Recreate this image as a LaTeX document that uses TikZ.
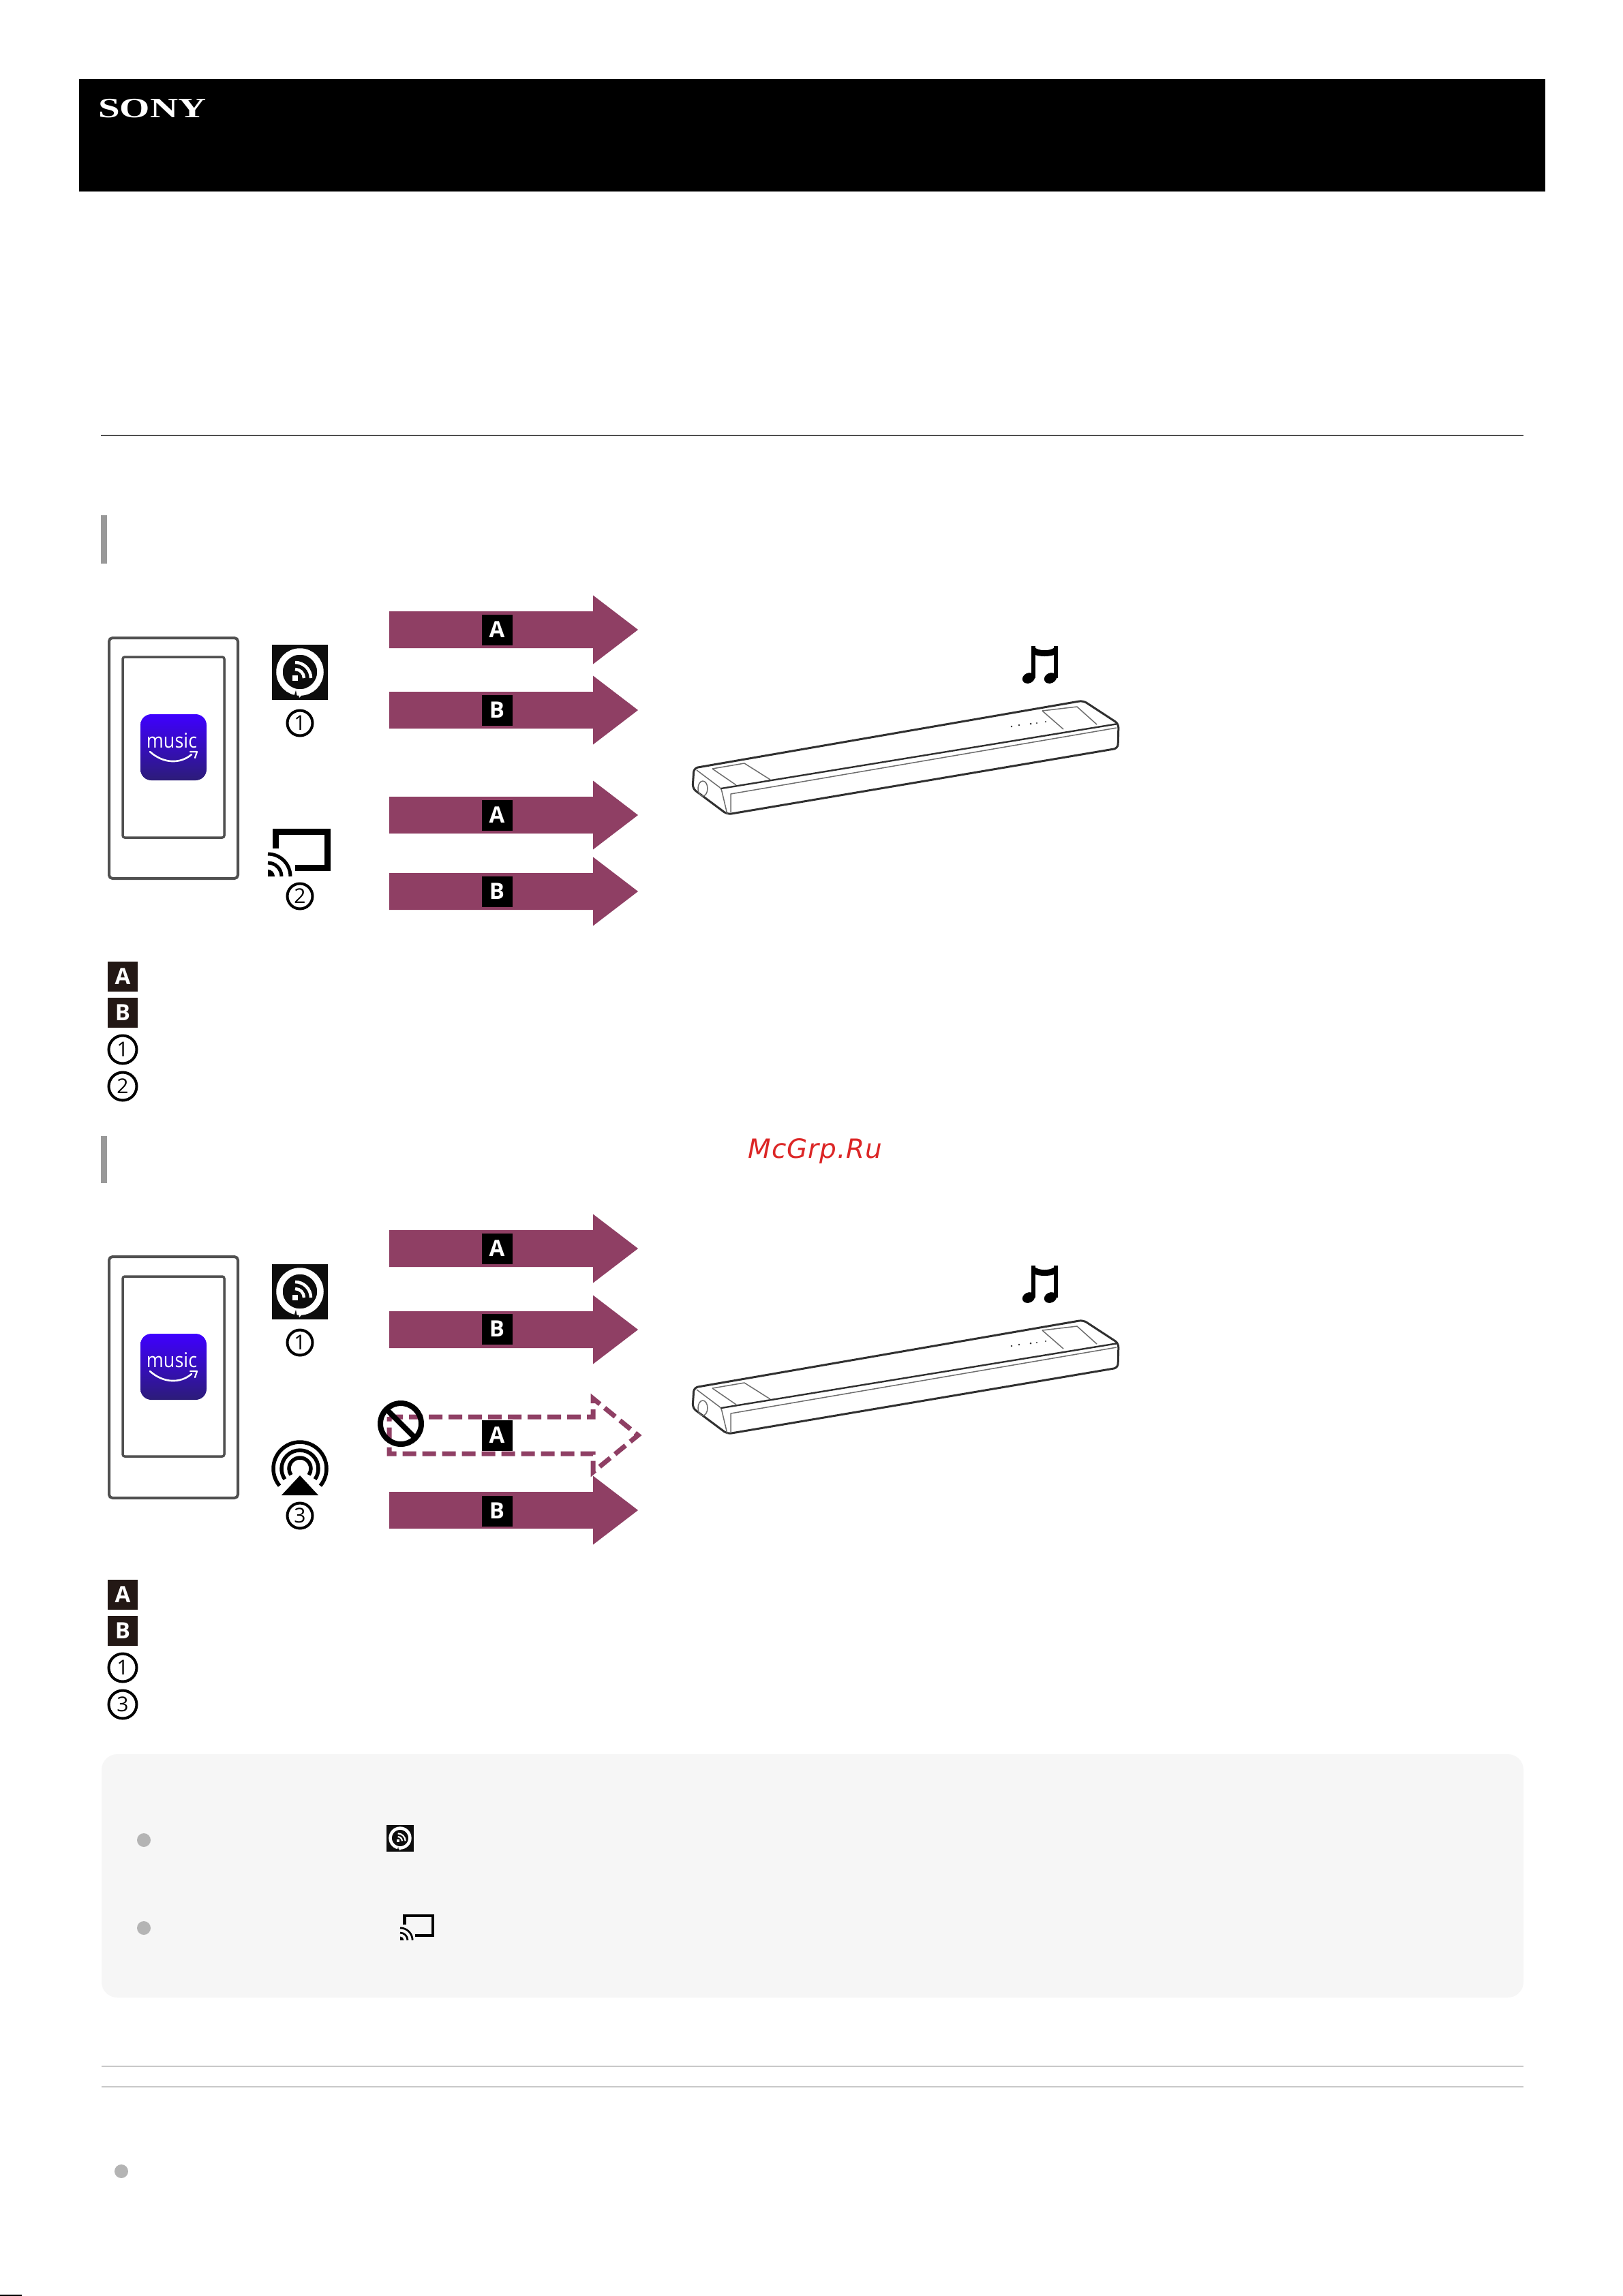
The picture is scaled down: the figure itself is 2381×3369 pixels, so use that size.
\documentclass[tikz,border=0pt]{standalone}
\usepackage{fontspec}
\setmainfont{Open Sans}
\newfontfamily\dvfont[LetterSpace=2.5]{DejaVu Sans}
\newfontfamily\lsfont{Liberation Serif}
\definecolor{flow}{HTML}{8F3F64}
\definecolor{legendbk}{HTML}{231815}
\definecolor{phoneline}{HTML}{505050}
\definecolor{notebg}{HTML}{F6F6F6}
\definecolor{dotgrey}{HTML}{B4B4B4}
\definecolor{rulegrey}{HTML}{C8C8C8}
\definecolor{barline}{HTML}{303030}
\definecolor{apptop}{HTML}{3F00FF}
\definecolor{appbot}{HTML}{2C1C78}
\definecolor{wmred}{HTML}{DC2626}
\tikzset{
  x=1pt,y=-1pt,
  letterbox/.style={fill=black,text=white,inner sep=0pt,minimum width=45pt,minimum height=45pt,font=\fontsize{33}{35}\selectfont\bfseries},
  legendbox/.style={letterbox,fill=legendbk,minimum width=44pt,minimum height=44pt},
  numring/.style={circle,draw=black,line width=4pt,inner sep=0pt,minimum size=37pt,font=\fontsize{30}{32}\selectfont},
  legendring/.style={numring,minimum size=41pt},
  phoneframe/.style={draw=phoneline,line width=4pt,rounded corners=5pt},
  screenframe/.style={draw=phoneline,line width=3.5pt,rounded corners=3pt},
  barout/.style={draw=barline,line width=3pt,line join=round},
  barin/.style={draw=barline!70,line width=1.5pt,line join=round},
  sidebar/.style={fill=dotgrey!85!black},
  bulletdot/.style={fill=dotgrey},
  rulethin/.style={rulegrey,line width=2.5pt},
}
% filled arrow, centre y
\newcommand\flowarrow[1]{\fill[flow] (571,#1-27) -- (870,#1-27) -- (870,#1-50.5) -- (936,#1) -- (870,#1+50.5) -- (870,#1+27) -- (571,#1+27) -- cycle;}
% amazon music icon: top y
\newcommand\appicon[2]{%
  \shade[top color=apptop,bottom color=appbot,rounded corners=16pt] (206,#1) rectangle (303,#1+97);
  \node (#2) [text=white,inner sep=0pt,anchor=base,xscale=.9,font=\fontsize{30}{31}\selectfont] at (252,#1+49) {music};
  \draw[white,line width=2.6pt,line cap=round] (220,#1+55) .. controls (240,#1+73) and (265,#1+73) .. (281,#1+59);
  \draw[white,line width=2.2pt,line cap=round,line join=round] (279,#1+55) -- (289,#1+55) -- (286,#1+64);
}
% alexa cast icon: centre x, centre y, scale
\newcommand\alexaicon[3]{%
  \begin{scope}[shift={(#1,#2)},scale=#3]
    \fill[black!95] (-41,-40) rectangle (41,41);
    \draw[white,line width=#3*9.5pt] (0,0) circle [radius=30pt];
    \fill[white] (-3,27) -- (8,28) -- (-1,38) -- cycle;
    \fill[black!95] (-6,27) -- (-9,37) -- (-4,37) -- cycle;
    \fill[white] (-11,5) rectangle (-3,13);
    \draw[white,line width=#3*4.5pt] (-7,-4) arc [start angle=90,end angle=0,radius=13pt];
    \draw[white,line width=#3*4.5pt] (-7,-14) arc [start angle=90,end angle=0,radius=23pt];
  \end{scope}
}
% cast icon: origin of waves, scale
\newcommand\casticon[3]{%
  \begin{scope}[shift={(#1,#2)},scale=#3]
    \draw[black,line width=#3*8.5pt,line join=miter] (11.5,-41) -- (11.5,-65.5) -- (87.5,-65.5) -- (87.5,-12.5) -- (40,-12.5);
    \fill[black] (0,0) -- (0,-10) arc [start angle=90,end angle=0,radius=10pt] -- cycle;
    \draw[black,line width=#3*5pt] (0,-20) arc [start angle=90,end angle=0,radius=20pt];
    \draw[black,line width=#3*5pt] (0,-33) arc [start angle=90,end angle=0,radius=33pt];
  \end{scope}
}
% soundbar and notes, vertical offset
\newcommand\soundbar[1]{%
  \begin{scope}[shift={(0,#1)}]
    \draw[barout,rounded corners=6pt] (1018,1127) -- (1589,1028) -- (1641,1062) -- (1640,1098) -- (1067,1195) -- (1016,1157) -- cycle;
    \draw[barin,rounded corners=3pt] (1022,1130) -- (1058,1157) -- (1067,1195);
    \draw[barout,line width=2.4pt] (1058,1157) -- (1640,1062);
    \draw[barin] (1072,1192) -- (1072,1165) -- (1638,1068);
    \draw[barin] (1045,1128) -- (1092,1120) -- (1130,1144);
    \draw[barin] (1529,1043) -- (1580,1037) -- (1609,1063);
    \draw[barin] (1529,1043) -- (1560,1070);
    \draw[barin] (1080,1152) -- (1045,1128);
    \draw[barin] (1031,1157) ellipse [x radius=7pt,y radius=11pt];
    \fill[barline] (1484,1066) circle [radius=1.3pt] (1495,1064) circle [radius=1.3pt] (1512,1062) circle [radius=1.5pt] (1521,1061) circle [radius=1.2pt] (1534,1059) circle [radius=1.2pt];
    \fill[black,shift={(1509,995)},rotate=25] (0,0) ellipse [x radius=9.5pt,y radius=7.5pt];
    \fill[black,shift={(1541,995)},rotate=25] (0,0) ellipse [x radius=9.5pt,y radius=7.5pt];
    \fill[black] (1513,948) -- (1519,948) -- (1519,995) -- (1513,995) -- cycle;
    \fill[black] (1546,948) -- (1552,948) -- (1552,995) -- (1546,995) -- cycle;
    \fill[black] (1516,949) .. controls (1525,956) and (1540,956) .. (1549,949) -- (1549,960) .. controls (1540,964) and (1525,964) .. (1516,960) -- cycle;
  \end{scope}
}
\begin{document}
\begin{tikzpicture}
\useasboundingbox (0,0) rectangle (2381,3369);
\fill[white] (0,0) rectangle (2381,3369);
% header
\fill[black] (116,116) rectangle (2267,281);
\node (sonylogo) [text=white,inner sep=0pt,anchor=base west,xscale=1.39,font=\lsfont\fontsize{41}{42}\selectfont\bfseries] at (144,173) {SONY};
\draw[phoneline,line width=2pt] (148,639) -- (2235,639);
\fill[sidebar] (148,756) rectangle (157,827);
\fill[sidebar] (148,1667) rectangle (157,1736);

% ---- first diagram
\draw[phoneframe] (160,936) rectangle (349,1289);
\draw[screenframe] (180,964) rectangle (329,1229);
\appicon{1048}{musicA}
\alexaicon{440}{986}{1}
\node (ra1) [numring] at (440,1061) {1};
\casticon{393}{1286}{1}
\node (ra2) [numring] at (440,1315) {2};
\flowarrow{924}
\flowarrow{1042}
\flowarrow{1196}
\flowarrow{1308}
\node (la1) [letterbox] at (729,924) {A};
\node (la2) [letterbox] at (729,1042) {B};
\node (la3) [letterbox] at (729,1196) {A};
\node (la4) [letterbox] at (729,1308) {B};
\soundbar{0}
\node (kaA) [legendbox] at (180,1433) {A};
\node (kaB) [legendbox] at (180,1486) {B};
\node (ka1) [legendring] at (180,1540) {1};
\node (ka2) [legendring] at (180,1594) {2};

% watermark
\node (mark) [text=wmred,inner sep=0pt,anchor=base,font=\dvfont\fontsize{39}{40}\selectfont\itshape] at (1196,1699) {McGrp.Ru};

% ---- second diagram
\draw[phoneframe] (160,1844) rectangle (349,2198);
\draw[screenframe] (180,1873) rectangle (329,2137);
\appicon{1957}{musicB}
\alexaicon{440}{1895}{1}
\node (rb1) [numring] at (440,1970) {1};
\draw[black,line width=5.5pt] (440,2116) arc [start angle=90,end angle=-40,radius=39pt];
\draw[black,line width=5.5pt] (440,2116) arc [start angle=90,end angle=220,radius=39pt];
\draw[black,line width=5.5pt] (440,2128) arc [start angle=90,end angle=-35,radius=27pt];
\draw[black,line width=5.5pt] (440,2128) arc [start angle=90,end angle=215,radius=27pt];
\draw[black,line width=5.5pt] (440,2139) arc [start angle=90,end angle=-35,radius=16pt];
\draw[black,line width=5.5pt] (440,2139) arc [start angle=90,end angle=215,radius=16pt];
\fill[white] (440,2156) -- (478,2198) -- (402,2198) -- cycle;
\fill[black] (440,2165) -- (467,2194) -- (413,2194) -- cycle;
\node (rb3) [numring] at (440,2224) {3};
\flowarrow{1832}
\flowarrow{1951}
\draw[flow,line width=7pt,dash pattern=on 20pt off 9pt,line join=miter] (571,2079) -- (870,2079) -- (870,2052) -- (936,2106) -- (870,2160) -- (870,2133) -- (571,2133) -- cycle;
\flowarrow{2216}
\node (lb1) [letterbox] at (729,1832) {A};
\node (lb2) [letterbox] at (729,1950) {B};
\node (lb3) [letterbox] at (729,2106) {A};
\node (lb4) [letterbox] at (729,2217) {B};
\draw[black,line width=8pt] (588,2089) circle [radius=30pt];
\draw[black,line width=8pt] (566,2067) -- (610,2111);
\soundbar{909}
\node (kbA) [legendbox] at (180,2340) {A};
\node (kbB) [legendbox] at (180,2393) {B};
\node (kb1) [legendring] at (180,2447) {1};
\node (kb3) [legendring] at (180,2501) {3};

% ---- note box
\fill[notebg,rounded corners=23pt] (149,2574) rectangle (2235,2931);
\fill[bulletdot] (211,2700) circle [radius=10pt];
\fill[bulletdot] (211,2829) circle [radius=10pt];
\alexaicon{587}{2697}{.48}
\casticon{587}{2847}{.55}
% ---- bottom rules
\draw[rulethin] (149,3032) -- (2235,3032);
\draw[rulethin] (149,3062) -- (2235,3062);
\fill[bulletdot] (178,3186) circle [radius=10pt];
\fill[black] (0,3367) rectangle (32,3369);
\end{tikzpicture}
\end{document}
